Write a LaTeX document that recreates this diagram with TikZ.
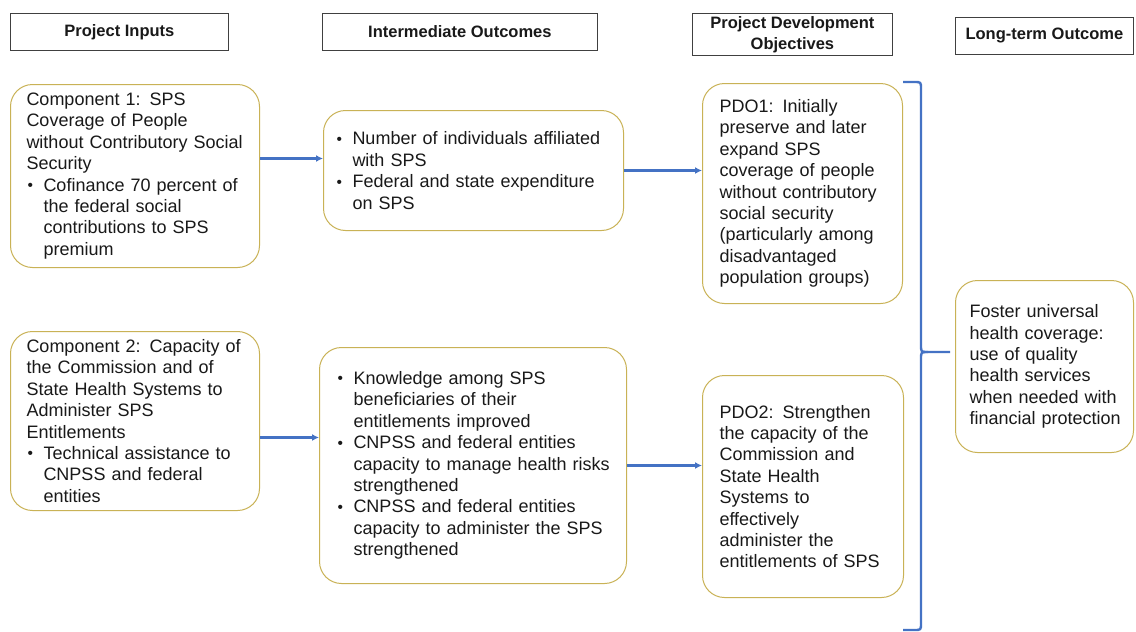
\documentclass[tikz,border=0pt]{standalone}
\usepackage{fontspec}
\setmainfont{Liberation Sans}
\usetikzlibrary{arrows.meta,calc}
\definecolor{boxline}{RGB}{201,178,86}
\definecolor{flow}{RGB}{68,114,196}
\definecolor{ink}{RGB}{25,25,25}
\hyphenpenalty=10000
\exhyphenpenalty=10000
% bullet item start and continuation indent
\newcommand\bitem{\makebox[19pt][l]{\hspace{3pt}\raisebox{0.6pt}{\fontsize{15.5}{15.5}\selectfont\textbullet}}}
\newcommand\bcont{\hspace*{19pt}}
\begin{document}
\begin{tikzpicture}[x=1pt,y=-1pt,
  hdr/.style={draw=black!75, line width=0.8pt, anchor=north west, inner sep=0pt,
    align=center, text=ink, font=\fontsize{16.5}{21}\selectfont\bfseries},
  card/.style={draw=boxline, line width=1pt, rounded corners=22pt, anchor=north west,
    inner ysep=0pt, align=left, text=ink, font=\fontsize{18}{21.4}\selectfont},
  arr/.style={draw=flow, line width=2.2pt, -{Latex[length=7pt,width=7pt]}},
  brace/.style={draw=flow, line width=2.4pt, line join=round}]

\useasboundingbox (0,0) rectangle (1136,632);
\fill[white] (0,0) rectangle (1136,632);

% column headers
\node[hdr, minimum width=218, minimum height=37] (h1) at (10,13) {Project Inputs};
\node[hdr, minimum width=275, minimum height=37] (h2) at (322,13) {Intermediate Outcomes};
\node[hdr, minimum width=200, minimum height=42] (h3) at (692,13) {Project Development\\Objectives};
\node[hdr, minimum width=178, minimum height=37] (h4) at (955,17) {Long-term Outcome};

% project inputs
\node[card, minimum height=183, text width=221, inner xsep=14] (c1) at (10,84)
  {\hspace*{2pt}Component 1: SPS\\
   \hspace*{2pt}Coverage of People\\
   \hspace*{2pt}without Contributory Social\\
   \hspace*{2pt}Security\\
   \bitem Cofinance 70 percent of\\
   \bcont the federal social\\
   \bcont contributions to SPS\\
   \bcont premium};
\node[card, minimum height=179, text width=221, inner xsep=14] (c2) at (10,331)
  {\hspace*{2pt}Component 2: Capacity of\\
   \hspace*{2pt}the Commission and of\\
   \hspace*{2pt}State Health Systems to\\
   \hspace*{2pt}Administer SPS\\
   \hspace*{2pt}Entitlements\\
   \bitem Technical assistance to\\
   \bcont CNPSS and federal\\
   \bcont entities};

% intermediate outcomes
\node[card, minimum height=120, text width=280, inner xsep=10] (io1) at (323,110)
  {\bitem Number of individuals affiliated\\
   \bcont with SPS\\
   \bitem Federal and state expenditure\\
   \bcont on SPS};
\node[card, minimum height=236, text width=277, inner xsep=15] (io2) at (319,347)
  {\bitem Knowledge among SPS\\
   \bcont beneficiaries of their\\
   \bcont entitlements improved\\
   \bitem CNPSS and federal entities\\
   \bcont capacity to manage health risks\\
   \bcont strengthened\\
   \bitem CNPSS and federal entities\\
   \bcont capacity to administer the SPS\\
   \bcont strengthened};

% development objectives
\node[card, minimum height=220, text width=166, inner xsep=17] (p1) at (702,83)
  {PDO1: Initially\\
   preserve and later\\
   expand SPS\\
   coverage of people\\
   without contributory\\
   social security\\
   (particularly among\\
   disadvantaged\\
   population groups)};
\node[card, minimum height=222, text width=167, inner xsep=17] (p2) at (702,375)
  {PDO2: Strengthen\\
   the capacity of the\\
   Commission and\\
   State Health\\
   Systems to\\
   effectively\\
   administer the\\
   entitlements of SPS};

% long-term outcome
\node[card, minimum height=172, text width=158, inner xsep=10] (lt) at (955,280)
  {\hspace*{4pt}Foster universal\\
   \hspace*{4pt}health coverage:\\
   \hspace*{4pt}use of quality\\
   \hspace*{4pt}health services\\
   \hspace*{4pt}when needed with\\
   \hspace*{4pt}financial protection};

% flow arrows
\coordinate (a1) at ([yshift=17.5pt]c1.east);
\coordinate (a3) at ([yshift=-16.5pt]c2.east);
\draw[arr] (a1) -- (a1 -| io1.west);
\draw[arr] (io1.east) -- (io1.east -| p1.west);
\draw[arr] (a3) -- (a3 -| io2.west);
\draw[arr] (io2.east) -- (io2.east -| p2.west);

% brace gathering both objectives
\draw[brace] (903,82) -- (914,82) .. controls (921,82) .. (921,89) -- (921,345)
  .. controls (921,352) .. (928,352) -- (950,352);
\draw[brace] (928,352) .. controls (921,352) .. (921,359) -- (921,623)
  .. controls (921,630) .. (914,630) -- (903,630);
\end{tikzpicture}
\end{document}
